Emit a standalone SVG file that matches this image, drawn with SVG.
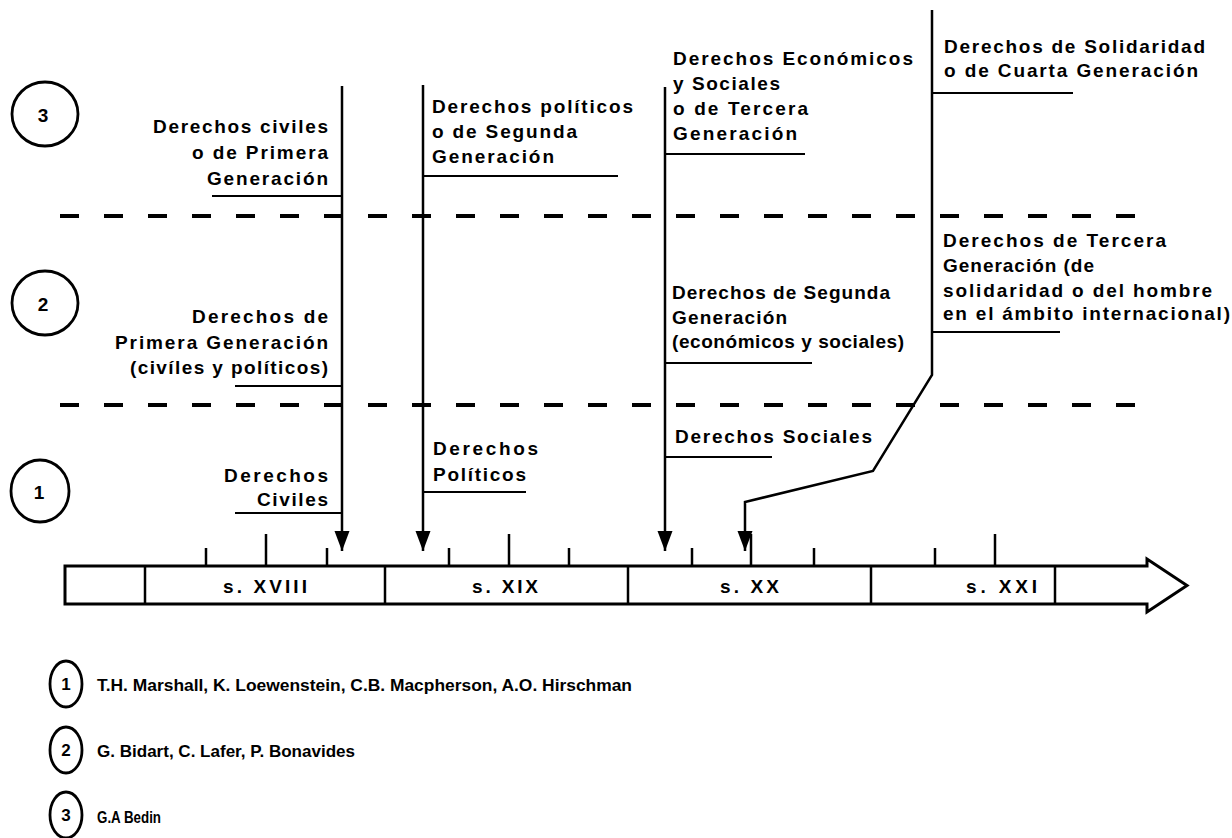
<svg xmlns="http://www.w3.org/2000/svg" width="1232" height="838" viewBox="0 0 1232 838">
<style>
.t{font-family:"Liberation Sans",Arial,sans-serif;font-weight:bold;font-size:19px;fill:#000}
.lg{font-family:"Liberation Sans",Arial,sans-serif;font-weight:bold;font-size:17px;fill:#000}
.r{text-anchor:end}
.m{text-anchor:middle}
.ln{stroke:#000;stroke-width:2.5;fill:none}
.ul{stroke:#000;stroke-width:2;fill:none}
.dash{stroke:#000;stroke-width:4;stroke-dasharray:19 25;fill:none}
.circ{stroke:#000;stroke-width:2.8;fill:#fff}
.tick{stroke:#000;stroke-width:2.5}
.box{stroke:#000;stroke-width:3;fill:#fff}
</style>
<defs>
<marker id="ah" markerUnits="userSpaceOnUse" markerWidth="22" markerHeight="16" refX="20" refY="7.5" orient="auto">
<path d="M0,0 L20,7.5 L0,15 Z" fill="#000"/>
</marker>
</defs>
<rect width="1232" height="838" fill="#fff"/>

<g id="bands">
<line class="dash" x1="60" y1="216" x2="1136" y2="216"/>
<line class="dash" x1="60" y1="405" x2="1136" y2="405"/>
</g>

<g id="row-markers">
<g id="row3"><ellipse class="circ" cx="45" cy="114" rx="33" ry="32"/><text class="t m" x="43" y="122" font-size="20">3</text></g>
<g id="row2"><ellipse class="circ" cx="45" cy="303" rx="33" ry="32"/><text class="t m" x="43" y="311" font-size="20">2</text></g>
<g id="row1"><ellipse class="circ" cx="40" cy="491" rx="29" ry="31"/><text class="t m" x="39" y="499" font-size="20">1</text></g>
</g>

<g id="timeline">
<path class="box" d="M65,566 H1147 V559 L1187,585.5 L1147,612 V604 H65 Z"/>
<line class="tick" x1="145" y1="566" x2="145" y2="604"/>
<line class="tick" x1="385" y1="566" x2="385" y2="604"/>
<line class="tick" x1="628" y1="566" x2="628" y2="604"/>
<line class="tick" x1="871" y1="566" x2="871" y2="604"/>
<line class="tick" x1="1055" y1="566" x2="1055" y2="604"/>
<line class="tick" x1="206" y1="548" x2="206" y2="566"/>
<line class="tick" x1="266" y1="534" x2="266" y2="566"/>
<line class="tick" x1="327" y1="548" x2="327" y2="566"/>
<line class="tick" x1="449" y1="548" x2="449" y2="566"/>
<line class="tick" x1="509" y1="534" x2="509" y2="566"/>
<line class="tick" x1="569" y1="548" x2="569" y2="566"/>
<line class="tick" x1="692" y1="548" x2="692" y2="566"/>
<line class="tick" x1="751" y1="534" x2="751" y2="566" stroke-width="3"/>
<line class="tick" x1="814" y1="548" x2="814" y2="566"/>
<line class="tick" x1="935" y1="548" x2="935" y2="566"/>
<line class="tick" x1="995" y1="534" x2="995" y2="566" stroke-width="3"/>
<text class="t" x="223" y="593" textLength="84">s. XVIII</text>
<text class="t" x="472" y="593" textLength="66">s. XIX</text>
<text class="t" x="720" y="593" textLength="59">s. XX</text>
<text class="t" x="966" y="593" textLength="71">s. XXI</text>
</g>

<g id="connectors">
<line class="ln" x1="342" y1="86" x2="342" y2="551" marker-end="url(#ah)"/>
<line class="ln" x1="423" y1="85" x2="423" y2="551" marker-end="url(#ah)"/>
<line class="ln" x1="665" y1="87" x2="665" y2="551" marker-end="url(#ah)"/>
<path class="ln" d="M932,10 V375 L873,471 L745,502 V551" marker-end="url(#ah)"/>
</g>

<g id="civiles-3">
<text class="t r" x="328" y="133" textLength="175">Derechos civiles</text>
<text class="t r" x="328" y="159" textLength="136">o de Primera</text>
<text class="t r" x="328" y="185" textLength="121">Generación</text>
<line class="ul" x1="212" y1="196" x2="342" y2="196"/>
</g>
<g id="politicos-3">
<text class="t" x="432" y="113" textLength="201">Derechos políticos</text>
<text class="t" x="432" y="138" textLength="145">o de Segunda</text>
<text class="t" x="432" y="163" textLength="122">Generación</text>
<line class="ul" x1="423" y1="176" x2="618" y2="176"/>
</g>
<g id="economicos-3">
<text class="t" x="673" y="65" textLength="240">Derechos Económicos</text>
<text class="t" x="673" y="90" textLength="107">y Sociales</text>
<text class="t" x="673" y="115" textLength="135">o de Tercera</text>
<text class="t" x="673" y="140" textLength="124">Generación</text>
<line class="ul" x1="665" y1="154" x2="805" y2="154"/>
</g>
<g id="solidaridad-3">
<text class="t" x="944" y="53" textLength="261">Derechos de Solidaridad</text>
<text class="t" x="944" y="77" textLength="254">o de Cuarta Generación</text>
<line class="ul" x1="932" y1="93" x2="1073" y2="93"/>
</g>

<g id="primera-2">
<text class="t r" x="328" y="323" textLength="136">Derechos de</text>
<text class="t r" x="328" y="349" textLength="213">Primera Generación</text>
<text class="t r" x="328" y="374" textLength="198">(civíles y políticos)</text>
<line class="ul" x1="235" y1="386" x2="342" y2="386"/>
</g>
<g id="segunda-2">
<text class="t" x="672" y="299" textLength="218">Derechos de Segunda</text>
<text class="t" x="672" y="324" textLength="115">Generación</text>
<text class="t" x="672" y="348" textLength="232">(económicos y sociales)</text>
<line class="ul" x1="665" y1="363" x2="812" y2="363"/>
</g>
<g id="tercera-2">
<text class="t" x="943" y="247" textLength="223">Derechos de Tercera</text>
<text class="t" x="943" y="272" textLength="151">Generación (de</text>
<text class="t" x="943" y="297" textLength="269">solidaridad o del hombre</text>
<text class="t" x="943" y="320" textLength="287">en el ámbito internacional)</text>
<line class="ul" x1="932" y1="332" x2="1060" y2="332"/>
</g>

<g id="civiles-1">
<text class="t r" x="328" y="482" textLength="104">Derechos</text>
<text class="t r" x="328" y="506" textLength="71">Civiles</text>
<line class="ul" x1="235" y1="513" x2="342" y2="513"/>
</g>
<g id="politicos-1">
<text class="t" x="433" y="455" textLength="105">Derechos</text>
<text class="t" x="433" y="481" textLength="93">Políticos</text>
<line class="ul" x1="423" y1="492" x2="526" y2="492"/>
</g>
<g id="sociales-1">
<text class="t" x="675" y="443" textLength="197">Derechos Sociales</text>
<line class="ul" x1="665" y1="457" x2="772" y2="457"/>
</g>

<g id="legend">
<g id="legend1"><ellipse class="circ" cx="66" cy="684" rx="16" ry="23" stroke-width="2.5"/><text class="lg m" x="66" y="690">1</text>
<text class="lg" x="97" y="691" textLength="535" lengthAdjust="spacingAndGlyphs">T.H. Marshall, K. Loewenstein, C.B. Macpherson, A.O. Hirschman</text></g>
<g id="legend2"><ellipse class="circ" cx="66" cy="750" rx="16" ry="23" stroke-width="2.5"/><text class="lg m" x="66" y="756">2</text>
<text class="lg" x="97" y="757" textLength="258" lengthAdjust="spacingAndGlyphs">G. Bidart, C. Lafer, P. Bonavides</text></g>
<g id="legend3"><ellipse class="circ" cx="66" cy="815" rx="16" ry="23" stroke-width="2.5"/><text class="lg m" x="66" y="821">3</text>
<text class="lg" x="97" y="823" textLength="64" lengthAdjust="spacingAndGlyphs">G.A Bedin</text></g>
</g>
</svg>
